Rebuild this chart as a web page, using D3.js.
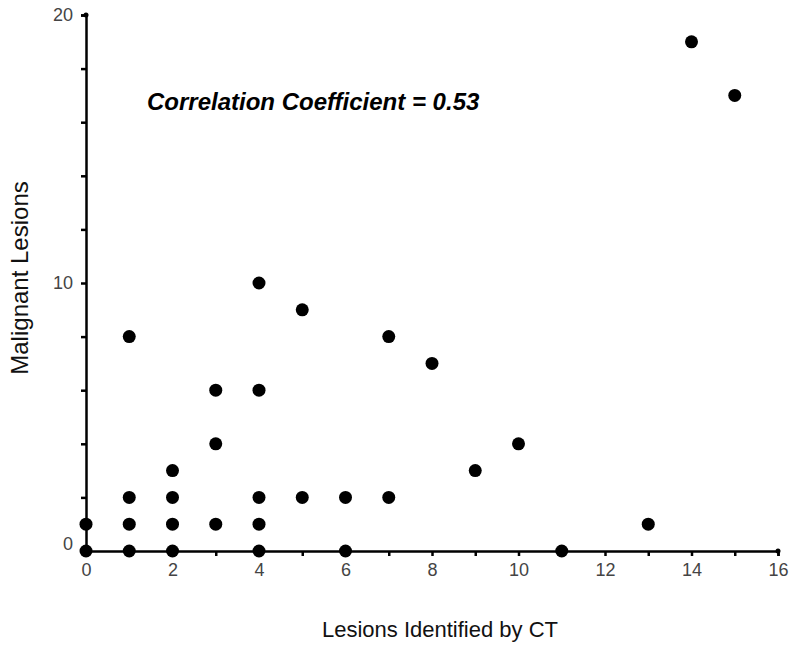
<!DOCTYPE html>
<html>
<head>
<meta charset="utf-8">
<script src="https://d3js.org/d3.v7.min.js"></script>
<style>
  body { margin: 0; background: #fff; }
  svg { font-family: "Liberation Sans", Arial, sans-serif; }
</style>
</head>
<body>
<div id="chart"></div>
<script>
let width = 792;
let height = 647;

// lesions identified by CT (x) and malignant lesions (y)
let ctLesions = [0, 0, 1, 1, 1, 1, 2, 2, 2, 2, 3, 3, 3, 4, 4, 4, 4, 4, 5, 5, 6, 6, 7, 7, 8, 9, 10, 11, 13, 14, 15];
let malignant = [0, 1, 0, 1, 2, 8, 0, 1, 2, 3, 1, 4, 6, 0, 1, 2, 6, 10, 2, 9, 0, 2, 2, 8, 7, 3, 4, 0, 1, 19, 17];

let xTicks = d3.range(0, 17, 1);
let xLabels = [0, 2, 4, 6, 8, 10, 12, 14, 16];
let yTicks = d3.range(0, 21, 2);
let yLabels = [0, 10, 20];

let svg = d3.select("#chart")
  .append("svg")
    .attr("width", width)
    .attr("height", height);

let xScale = d3.scaleLinear().domain([0, 16]).range([86, 778]);
let yScale = d3.scaleLinear().domain([0, 20]).range([551, 15]);

// x axis
let xAxis = d3.axisBottom(xScale)
  .tickValues(xTicks)
  .tickSize(5)
  .tickFormat(d => xLabels.includes(d) ? d : "");

let xAxisGroup = svg.append("g")
  .attr("transform", "translate(0," + yScale(0) + ")")
  .call(xAxis);

// y axis
let yAxis = d3.axisLeft(yScale)
  .tickValues(yTicks)
  .tickSize(5)
  .tickFormat(d => yLabels.includes(d) ? d : "");

let yAxisGroup = svg.append("g")
  .attr("transform", "translate(" + xScale(0) + ",0)")
  .call(yAxis);

svg.selectAll(".domain")
  .attr("stroke", "#000")
  .attr("stroke-width", 2.5);
svg.selectAll(".tick line")
  .attr("stroke", "#000")
  .attr("stroke-width", 2.5);
svg.selectAll(".tick text")
  .attr("fill", "#444")
  .style("font-size", "18px")
  .style("font-family", "'Liberation Sans', Arial, sans-serif");

xAxisGroup.selectAll(".tick text").attr("dy", "0.95em");
yAxisGroup.selectAll(".tick text").attr("x", -13);
// the zero label sits a bit above the axis line
yAxisGroup.selectAll(".tick text").filter(d => d == 0).attr("dy", "-0.1em");

// end caps
svg.append("circle")
  .attr("cx", xScale(0)).attr("cy", yScale(20)).attr("r", 2.5).attr("fill", "#000");
svg.append("circle")
  .attr("cx", xScale(16)).attr("cy", yScale(0)).attr("r", 2.5).attr("fill", "#000");

// points
let points = ctLesions.map((d, i) => ({x: d, y: malignant[i]}));

svg.selectAll(".datacircle").data(points).enter()
  .append("circle")
    .attr("class", "datacircle")
    .attr("cx", d => xScale(d.x))
    .attr("cy", d => yScale(d.y))
    .attr("r", 6.5)
    .attr("fill", "#000");

// annotation
svg.append("text")
  .attr("x", 147)
  .attr("y", 110)
  .text("Correlation Coefficient = 0.53")
  .style("font-size", "24px")
  .style("font-weight", "bold")
  .style("font-style", "italic")
  .attr("fill", "#000");

// axis titles
svg.append("text")
  .attr("x", 440)
  .attr("y", 637)
  .attr("text-anchor", "middle")
  .text("Lesions Identified by CT")
  .style("font-size", "22px")
  .attr("fill", "#111");

svg.append("text")
  .attr("transform", "translate(28,278) rotate(-90)")
  .attr("text-anchor", "middle")
  .text("Malignant Lesions")
  .style("font-size", "24px")
  .attr("fill", "#111");
</script>
</body>
</html>
